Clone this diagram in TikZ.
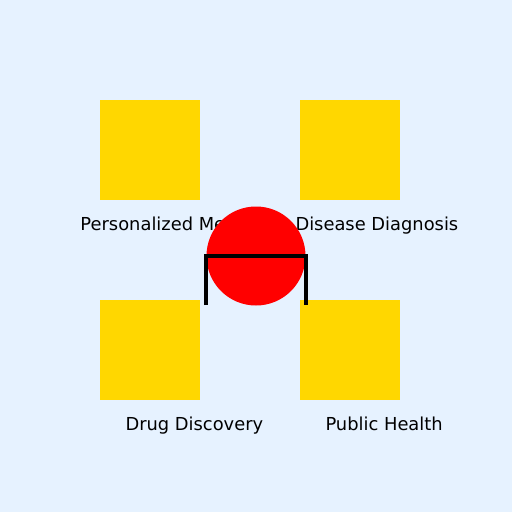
\documentclass[tikz,border=0pt]{standalone}
\usepackage{fontspec}
\setmainfont{DejaVu Sans}
\definecolor{skyback}{RGB}{230,242,255}
\definecolor{golden}{RGB}{255,215,0}
\tikzset{every picture/.style={line width=0.75pt}}
\tikzset{
field/.style={fill=golden, draw=none, minimum size=75pt, inner sep=0pt, outer sep=0pt},
caption/.style={anchor=base west, inner sep=0pt, font=\fontsize{13.4}{16}\selectfont}
}

\begin{document}
\begin{tikzpicture}[x=0.75pt,y=0.75pt,yscale=-1,xscale=1]

% BACKGROUND

\fill [skyback] (0,0) rectangle (512,512);
\useasboundingbox (0,0) rectangle (512,512);

% SQUARES

\node [field] (pm) at (150,150) {};
\node [field] (dd) at (350,150) {};
\node [field] (dr) at (150,350) {};
\node [field] (ph) at (350,350) {};

% LABELS

\node [caption] (pmlabel) at (80,230) {Personalized Medicine};
\node [caption] (ddlabel) at (295,230) {Disease Diagnosis};
\node [caption] (drlabel) at (125,430) {Drug Discovery};
\node [caption] (phlabel) at (325,430) {Public Health};

% BALL

\node [circle, fill=red, minimum size=74.25pt, inner sep=0pt] (ball) at (256,256) {};

% STAND

\coordinate (sl) at (206,256);
\coordinate (sr) at (306,256);
\coordinate (fl) at (206,305);
\coordinate (fr) at (306,305);

\draw [black, line width=3.5pt] (fl) -- (sl) -- (sr) -- (fr) ;

\end{tikzpicture}
\end{document}
